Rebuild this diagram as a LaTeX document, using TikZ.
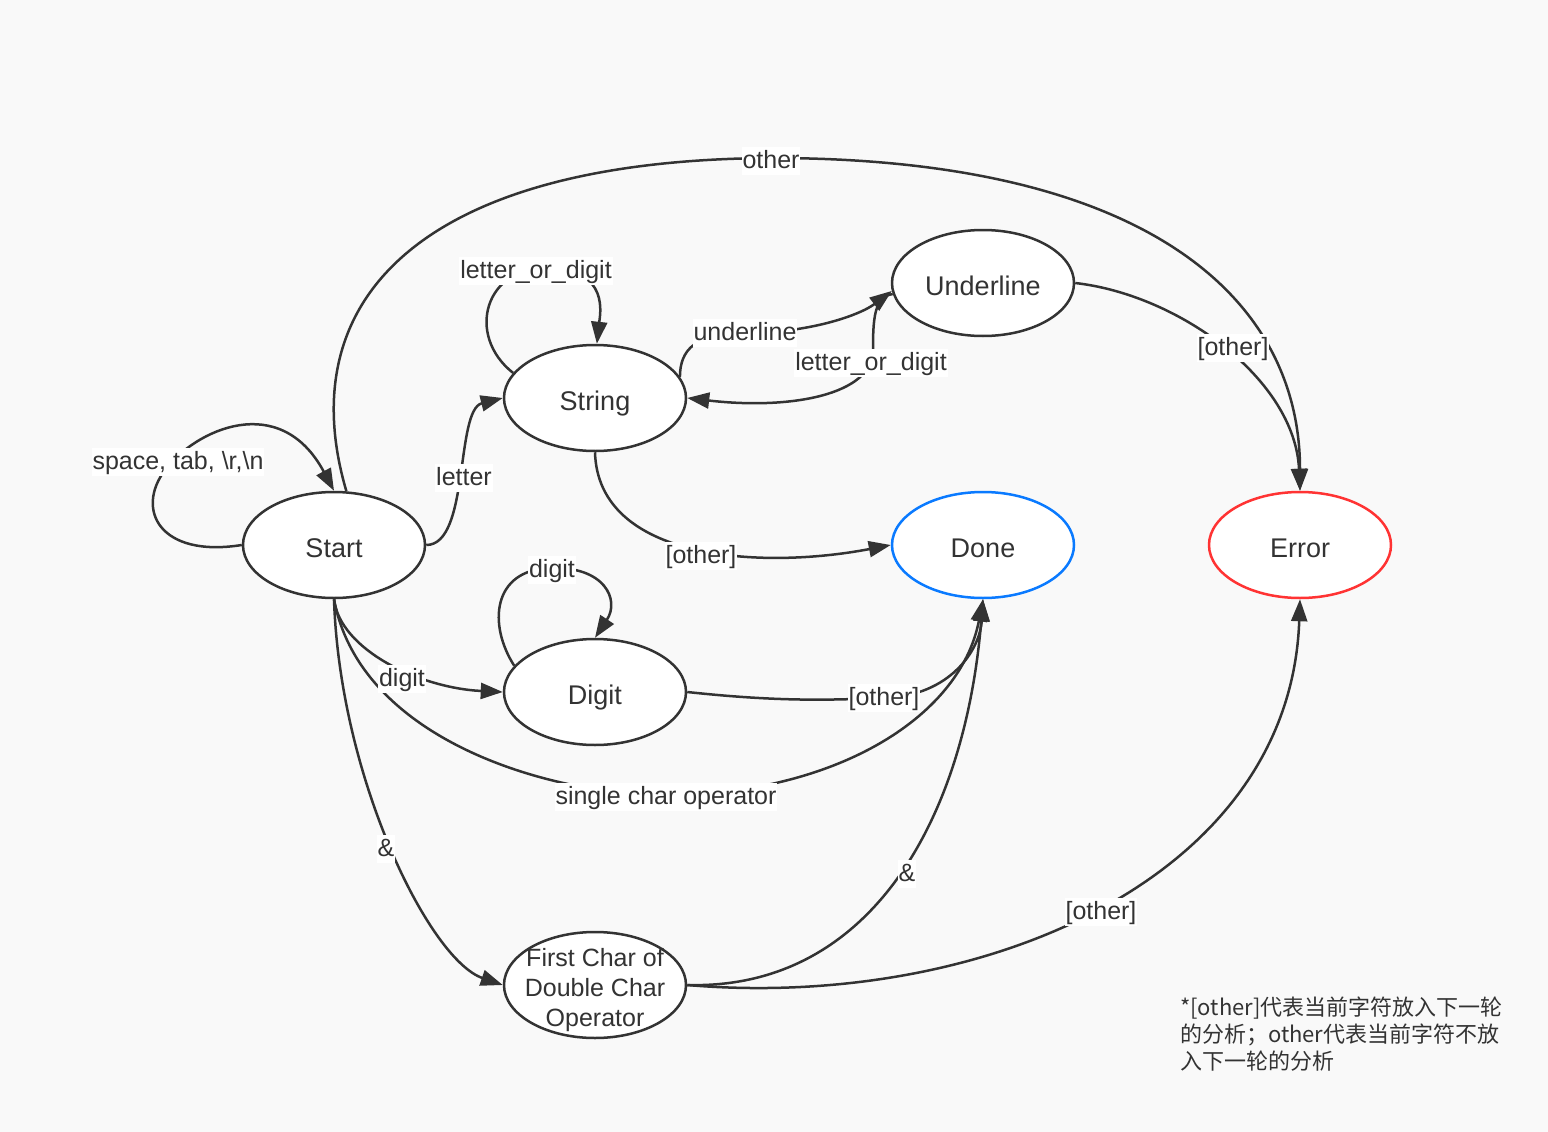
\documentclass[tikz,border=0pt]{standalone}
\usepackage{fontspec}
\setmainfont{Liberation Sans}
\newfontfamily\cjk{Noto Sans CJK SC}
\usetikzlibrary{shapes.geometric,arrows.meta}
\definecolor{ink}{HTML}{333333}
\definecolor{doneblue}{HTML}{0A7AFF}
\definecolor{errred}{HTML}{FF3333}
\definecolor{bgc}{HTML}{F9F9F9}
\begin{document}
\begin{tikzpicture}[x=1pt,y=-1pt,
  state/.style={ellipse, draw=ink, line width=2.5pt, fill=white, minimum width=182pt, minimum height=106pt, inner sep=0pt, text=ink, font=\fontsize{27}{32}\selectfont, text height=32.4pt, text depth=7pt},
  edge/.style={draw=ink, line width=2.5pt, -{Triangle[length=22pt,width=16pt]}},
  lab/.style={fill=white, inner xsep=1pt, inner ysep=0.5pt, text=ink, font=\fontsize{25}{29}\selectfont, text height=21pt, text depth=6pt},
  notestyle/.style={inner sep=0pt, text=ink, align=left, font=\cjk\fontsize{22}{27}\selectfont}
]
\fill[bgc] (0,0) rectangle (1548,1132);
\useasboundingbox (0,0) rectangle (1548,1132);

% states
\node[state] (Start) at (334,545) {Start};
\node[state] (String) at (595,398) {String};
\node[state] (Underline) at (983,283) {Underline};
\node[state, draw=doneblue] (Done) at (983,545) {Done};
\node[state, draw=errred] (Error) at (1300,545) {Error};
\node[state] (Digit) at (595,692) {Digit};
\node[state, text height=0pt, text depth=0pt, font=\fontsize{25}{30}\selectfont] (First) at (595,985) {\makebox[0pt]{\raisebox{19pt}[0pt][0pt]{\begin{tabular}[t]{@{}c@{}}First Char of\\Double Char\\Operator\end{tabular}}}};

% edges
\draw[edge] (Start.west) .. controls (160,558) and (135,510) .. (165,470) .. controls (195,430) and (280,390) .. (Start.north);
\draw[edge] (Start.east) .. controls (470,545) and (455,410) .. (String.west);
\draw[edge] (String.163) .. controls (465,335) and (485,265) .. (550,268) .. controls (610,270) and (600,315) .. (String.88);
\draw[edge] (String.14) .. controls (680,350) and (695,333) .. (745,333) .. controls (810,333) and (860,315) .. (Underline.185);
\draw[edge] (Underline.187) .. controls (874,296) and (873,320) .. (873,350) .. controls (873,395) and (790,410) .. (String.east);
\draw[edge] (Underline.east) .. controls (1180,295) and (1295,380) .. (Error.north);
\draw[edge] (Start.77) .. controls (290,300) and (420,160) .. (771,158) .. controls (1150,158) and (1300,300) .. (Error.north);
\draw[edge] (String.south) .. controls (598,560) and (760,570) .. (Done.west);
\draw[edge] (Start.south) .. controls (340,650) and (420,688) .. (Digit.west);
\draw[edge] (Digit.162) .. controls (488,625) and (492,570) .. (550,568) .. controls (605,566) and (620,600) .. (Digit.north);
\draw[edge] (Digit.east) .. controls (780,702) and (830,700) .. (884,698) .. controls (950,696) and (980,650) .. (Done.south);
\draw[edge] (Start.south) .. controls (360,740) and (550,795) .. (666,795) .. controls (830,795) and (960,720) .. (Done.south);
\draw[edge] (Start.south) .. controls (340,780) and (430,960) .. (First.west);
\draw[edge] (First.east) .. controls (870,990) and (965,820) .. (Done.south);
\draw[edge] (First.east) .. controls (980,1010) and (1290,880) .. (Error.south);

% labels
\node[lab] (l1) at (178,462) {space, tab, \textbackslash r,\textbackslash n};
\node[lab] (l2) at (464,478) {letter};
\node[lab] (l3) at (536,271) {letter\_or\_digit};
\node[lab] (l4) at (745,333) {underline};
\node[lab] (l5) at (871,363) {letter\_or\_digit};
\node[lab] (l6) at (1233,348) {[other]};
\node[lab] (l7) at (771,161) {other};
\node[lab] (l8) at (701,556) {[other]};
\node[lab] (l9) at (402,679) {digit};
\node[lab] (l10) at (552,570) {digit};
\node[lab] (l11) at (884,698) {[other]};
\node[lab] (l12) at (666,797) {single char operator};
\node[lab] (l13) at (386,849) {\&};
\node[lab] (l14) at (907,874) {\&};
\node[lab] (l15) at (1101,912) {[other]};

% note
\node[notestyle, anchor=north west] (note) at (1180,997) {*[other]代表当前字符放入下一轮\\的分析；other代表当前字符不放\\入下一轮的分析};
\end{tikzpicture}
\end{document}
